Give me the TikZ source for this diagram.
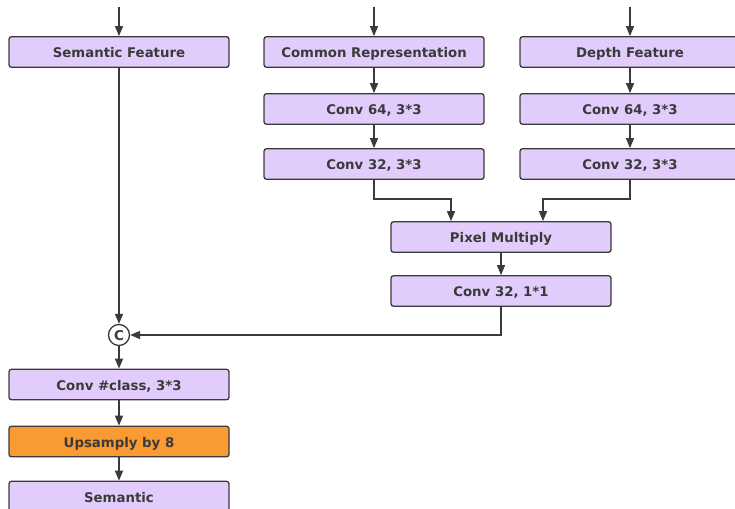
\documentclass[tikz,border=0pt]{standalone}
\usepackage{fontspec}
\setmainfont{DejaVu Sans}
\usetikzlibrary{arrows.meta}
\definecolor{boxfill}{HTML}{E1CCFB}
\definecolor{upfill}{HTML}{FA9A33}
\definecolor{edge}{HTML}{3A3A3A}
\tikzset{
  x=1pt, y=-1pt,
  block/.style={draw=edge, line width=1.3pt, fill=boxfill, rounded corners=2.5pt,
    minimum width=220pt, minimum height=30.5pt, inner sep=0pt,
    text height=11.6pt, text depth=0pt,
    text=edge, font=\fontsize{13.3}{15}\selectfont\bfseries},
  upblock/.style={block, fill=upfill},
  catnode/.style={circle, draw=edge, line width=1.3pt, fill=white, minimum size=21pt,
    inner sep=0pt, text height=10.6pt, text depth=0pt,
    text=edge, font=\fontsize{13.5}{15}\selectfont\bfseries},
  link/.style={draw=edge, line width=1.4pt, -{Triangle[length=10pt,width=8pt]}}
}
\begin{document}
\begin{tikzpicture}
\useasboundingbox (0,0) rectangle (735,508);
\clip (0,0) rectangle (735,508);

% left branch
\node[block] (sem) at (119,52) {Semantic Feature};
\node[catnode] (cat) at (119,335) {C};
\node[block] (cls) at (119,384.5) {Conv \#class, 3*3};
\node[upblock] (up) at (119,441.5) {Upsamply by 8};
\node[block] (out) at (119,496.5) {Semantic};

% middle branch
\node[block] (com) at (374,52) {Common Representation};
\node[block] (c64a) at (374,109) {Conv 64, 3*3};
\node[block] (c32a) at (374,164) {Conv 32, 3*3};

% right branch
\node[block] (dep) at (630,52) {Depth Feature};
\node[block] (c64b) at (630,109) {Conv 64, 3*3};
\node[block] (c32b) at (630,164) {Conv 32, 3*3};

% fusion
\node[block] (mul) at (501,237) {Pixel Multiply};
\node[block] (c11) at (501,291) {Conv 32, 1*1};

% inputs from above
\coordinate (inS) at (119,7);
\coordinate (inC) at (374,7);
\coordinate (inD) at (630,7);
\draw[link] (inS) -- (sem);
\draw[link] (inC) -- (com);
\draw[link] (inD) -- (dep);

% vertical chains
\draw[link] (com) -- (c64a);
\draw[link] (c64a) -- (c32a);
\draw[link] (dep) -- (c64b);
\draw[link] (c64b) -- (c32b);
\draw[link] (mul) -- (c11);
\draw[link] (sem) -- (cat);
\draw[link] (cat) -- (cls);
\draw[link] (cls) -- (up);
\draw[link] (up) -- (out);

% merge into pixel multiply
\coordinate (jL) at (451,199);
\coordinate (jR) at (543,199);
\draw[link] (c32a.south) |- (jL) -- (jL |- mul.north);
\draw[link] (c32b.south) |- (jR) -- (jR |- mul.north);

% back to the concatenation
\draw[link] (c11.south) |- (cat.east);
\end{tikzpicture}
\end{document}
